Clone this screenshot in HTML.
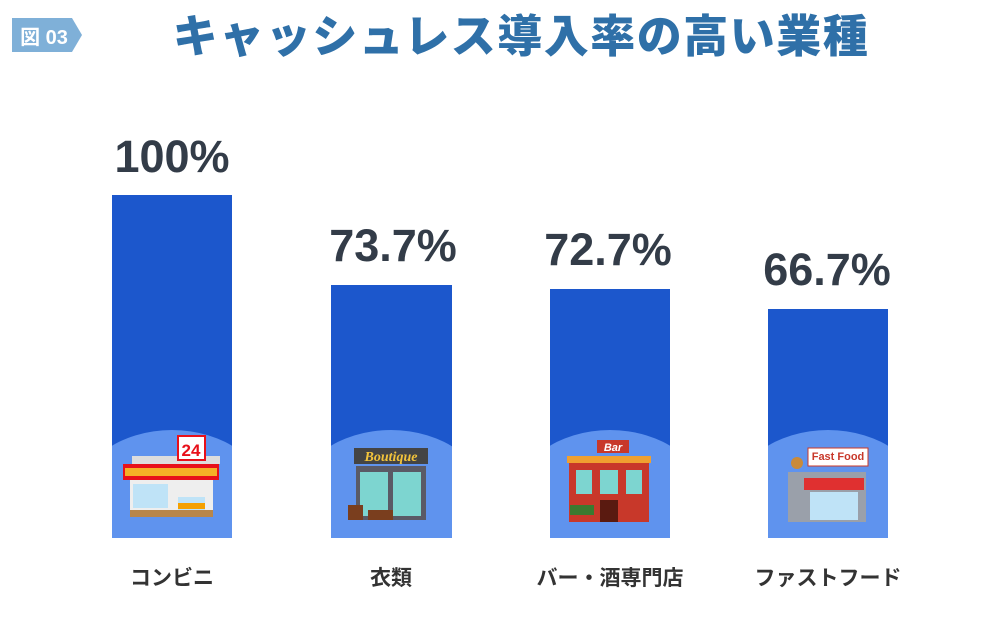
<!DOCTYPE html>
<html><head><meta charset="utf-8"><style>
body{margin:0;width:1000px;height:630px;background:#fff;overflow:hidden;font-family:"Liberation Sans","Noto Sans CJK JP",sans-serif}
</style></head><body>
<svg width="1000" height="630" xmlns="http://www.w3.org/2000/svg" font-family="Liberation Sans, Noto Sans CJK JP, sans-serif">
<defs>
<clipPath id="c1"><rect x="112" y="195" width="120" height="343"/></clipPath>
<clipPath id="c2"><rect x="331" y="285" width="121" height="253"/></clipPath>
<clipPath id="c3"><rect x="550" y="289" width="120" height="249"/></clipPath>
<clipPath id="c4"><rect x="768" y="309" width="120" height="229"/></clipPath>
</defs>
<polygon points="12,18 72,18 82,35 72,52 12,52" fill="#7fb0d8"/>
<text x="44" y="44" fill="#fff" font-size="20" font-weight="bold" text-anchor="middle">図 03</text>
<text x="521" y="52" fill="#2f70a8" font-size="45" font-weight="900" text-anchor="middle" letter-spacing="1.5" font-family="Noto Sans CJK JP, sans-serif">キャッシュレス導入率の高い業種</text>
<g fill="#1c57cc">
<rect x="112" y="195" width="120" height="343"/>
<rect x="331" y="285" width="121" height="253"/>
<rect x="550" y="289" width="120" height="249"/>
<rect x="768" y="309" width="120" height="229"/>
</g>
<g fill="#5f93ee">
<ellipse cx="172" cy="500" rx="95" ry="70" clip-path="url(#c1)"/>
<ellipse cx="391" cy="500" rx="95" ry="70" clip-path="url(#c2)"/>
<ellipse cx="610" cy="500" rx="95" ry="70" clip-path="url(#c3)"/>
<ellipse cx="828" cy="500" rx="95" ry="70" clip-path="url(#c4)"/>
</g>
<rect x="132" y="456" width="88" height="8" fill="#ddd"/>
<rect x="123" y="464" width="96" height="16" fill="#e8101a"/>
<rect x="125" y="468" width="92" height="8" fill="#f5b026"/>
<rect x="130" y="480" width="83" height="37" fill="#eee"/>
<rect x="133" y="484" width="35" height="24" fill="#bfe3f7"/>
<rect x="178" y="497" width="27" height="20" fill="#bfe3f7"/>
<rect x="178" y="503" width="27" height="6" fill="#f5a000"/>
<rect x="130" y="510" width="83" height="7" fill="#b8864a"/>
<rect x="178" y="436" width="27" height="24" fill="#fff" stroke="#e8101a" stroke-width="2"/>
<text x="191" y="456" fill="#e8101a" font-size="17" font-weight="bold" text-anchor="middle">24</text>
<rect x="354" y="448" width="74" height="16" fill="#444"/>
<text x="391" y="461" fill="#f3c43b" font-size="14" font-style="italic" font-weight="bold" text-anchor="middle" font-family="Liberation Serif, serif">Boutique</text>
<rect x="356" y="466" width="70" height="54" fill="#5a5a66"/>
<rect x="360" y="472" width="28" height="44" fill="#7dd5d0"/>
<rect x="393" y="472" width="28" height="44" fill="#7dd5d0"/>
<rect x="348" y="505" width="15" height="15" fill="#7a3e1e"/>
<rect x="368" y="510" width="25" height="10" fill="#7a3e1e"/>
<rect x="569" y="456" width="80" height="66" fill="#c8382a"/>
<rect x="567" y="456" width="84" height="7" fill="#f0a030"/>
<rect x="597" y="440" width="32" height="13" fill="#c8382a"/>
<text x="613" y="451" fill="#fff" font-size="11" font-style="italic" font-weight="bold" text-anchor="middle">Bar</text>
<rect x="576" y="470" width="16" height="24" fill="#7dd5d0"/>
<rect x="600" y="470" width="18" height="24" fill="#7dd5d0"/>
<rect x="626" y="470" width="16" height="24" fill="#7dd5d0"/>
<rect x="600" y="500" width="18" height="22" fill="#5a1a10"/>
<rect x="570" y="505" width="24" height="10" fill="#3a7a30"/>
<rect x="808" y="448" width="60" height="18" fill="#fff" stroke="#c8382a" stroke-width="1"/>
<text x="838" y="460" fill="#c8382a" font-size="11" font-weight="bold" text-anchor="middle">Fast Food</text>
<rect x="788" y="472" width="78" height="50" fill="#9aa0aa"/>
<rect x="804" y="478" width="60" height="12" fill="#e03030"/>
<rect x="810" y="492" width="48" height="28" fill="#bfe3f7"/>
<circle cx="797" cy="463" r="6" fill="#c98a3a"/>
<g fill="#333c48" font-weight="bold" font-size="45" text-anchor="middle" font-family="Liberation Sans, sans-serif">
<text x="172" y="172">100%</text>
<text x="393" y="261">73.7%</text>
<text x="608" y="265">72.7%</text>
<text x="827" y="285">66.7%</text>
</g>
<g fill="#333" font-weight="bold" font-size="21" text-anchor="middle" font-family="Noto Sans CJK JP, sans-serif">
<text x="172" y="585">コンビニ</text>
<text x="391" y="585">衣類</text>
<text x="610" y="585">バー・酒専門店</text>
<text x="828" y="585">ファストフード</text>
</g>
</svg>
</body></html>
